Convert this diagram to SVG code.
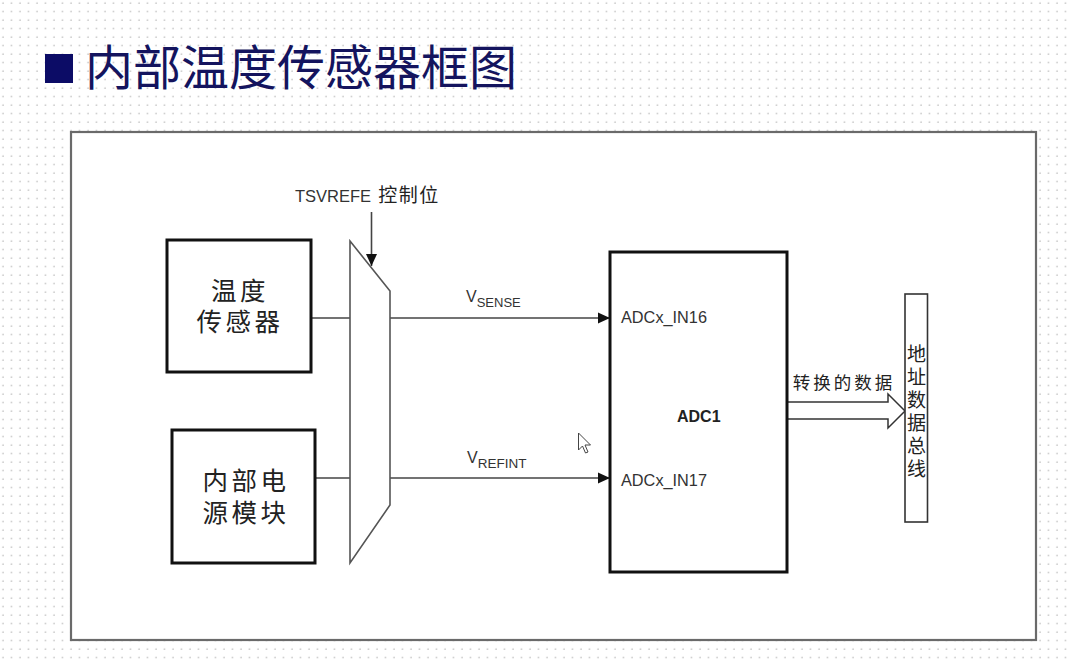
<svg xmlns="http://www.w3.org/2000/svg" width="1071" height="661" viewBox="0 0 1071 661">
<style>
.cjk{font-family:"Liberation Sans","Noto Sans CJK SC",sans-serif;dominant-baseline:central;text-anchor:middle;fill:#222}
.lat{font-family:"Liberation Sans",Arial,sans-serif;fill:#333}
.box{fill:#fff;stroke:#111;stroke-width:3}
.wire{stroke:#444;stroke-width:1.6;fill:none}
</style>
<defs>
<pattern id="dots" x="0" y="0" width="8.5" height="8.5" patternUnits="userSpaceOnUse">
<circle cx="3" cy="3" r="0.75" fill="#a8a8a8"/>
</pattern>
<marker id="ah" viewBox="0 0 12 12" refX="12" refY="6" markerWidth="12" markerHeight="12" markerUnits="userSpaceOnUse" orient="auto">
<path d="M0,0.5 L12,6 L0,11.5 Z" fill="#111"/>
</marker>
</defs>
<rect width="1071" height="661" fill="#fff"/>
<rect width="1071" height="661" fill="url(#dots)"/>
<g id="title">
<rect x="45" y="54" width="28" height="29" fill="#0c0c66"/>
<text x="301" y="68.5" class="cjk" style="font-size:48px;fill:#14145e">内部温度传感器框图</text>
</g>
<g id="frame">
<rect x="71" y="132" width="965" height="508" fill="#fff" stroke="#6a6a6a" stroke-width="2.2"/>
</g>
<g id="connectors">
<line class="wire" x1="311" y1="318" x2="350" y2="318"/>
<line class="wire" x1="315" y1="478" x2="350" y2="478"/>
<line class="wire" x1="390" y1="318" x2="610" y2="318" marker-end="url(#ah)"/>
<line class="wire" x1="390" y1="478" x2="610" y2="478" marker-end="url(#ah)"/>
<line class="wire" x1="371.5" y1="212" x2="371.5" y2="266" marker-end="url(#ah)"/>
<polygon points="787,402 888,402 888,394 905,411 888,428 888,419 787,419" fill="#fff" stroke="#333" stroke-width="1.5"/>
</g>
<g id="temp-sensor">
<rect class="box" x="167" y="240" width="144" height="132"/>
<text class="cjk" style="font-size:25.5px;letter-spacing:3.5px"><tspan x="240" y="291">温度</tspan><tspan x="240" y="321.5">传感器</tspan></text>
</g>
<g id="power-module">
<rect class="box" x="172" y="430" width="143" height="133"/>
<text class="cjk" style="font-size:25.5px;letter-spacing:3.5px"><tspan x="246" y="481">内部电</tspan><tspan x="246" y="512.5">源模块</tspan></text>
</g>
<g id="mux">
<polygon points="350,241 390,291 390,505 350,563" fill="#fff" stroke="#555" stroke-width="1.6"/>
<text x="295" y="202" class="lat" style="font-size:16.5px">TSVREFE</text>
<text x="409" y="195.5" class="cjk" style="font-size:19px;letter-spacing:1.5px">控制位</text>
</g>
<g id="labels">
<text x="466" y="302" class="lat" style="font-size:16px">V<tspan dy="5" style="font-size:13px">SENSE</tspan></text>
<text x="467" y="463" class="lat" style="font-size:16px">V<tspan dy="5" style="font-size:13.5px">REFINT</tspan></text>
<text x="844" y="383" class="cjk" style="font-size:17.5px;letter-spacing:3px">转换的数据</text>
</g>
<g id="adc1">
<rect class="box" x="610" y="252" width="177" height="320"/>
<text x="621" y="323" class="lat" style="font-size:16.3px">ADCx_IN16</text>
<text x="621" y="486" class="lat" style="font-size:16.3px">ADCx_IN17</text>
<text x="677" y="422" class="lat" style="font-size:16px;font-weight:bold;fill:#222">ADC1</text>
</g>
<g id="bus">
<rect x="905" y="294" width="22.5" height="228" fill="#fff" stroke="#333" stroke-width="1.6"/>
<text class="cjk" style="font-size:19px"><tspan x="916.5" y="354">地</tspan><tspan x="916.5" y="377">址</tspan><tspan x="916.5" y="400">数</tspan><tspan x="916.5" y="423">据</tspan><tspan x="916.5" y="446">总</tspan><tspan x="916.5" y="469">线</tspan></text>
</g>
<g id="cursor">
<path d="M578.5,433 L578.5,450 L582.5,446 L585.5,453 L588,452 L585,445 L590.5,445 Z" fill="#fff" stroke="#444" stroke-width="1"/>
</g>
</svg>
